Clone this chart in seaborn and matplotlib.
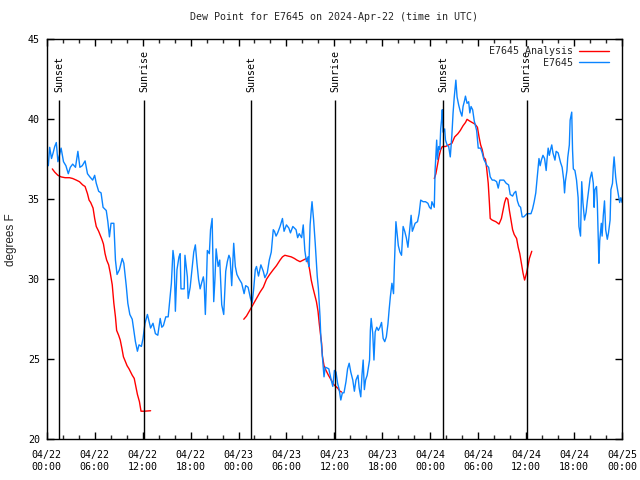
import numpy as np
import pandas as pd
import matplotlib
matplotlib.use("Agg")
import matplotlib.pyplot as plt
import matplotlib.dates as mdates
from matplotlib.lines import Line2D
import seaborn as sns

# ---------------- data (hours since 2024-04-22 00:00 UTC) ----------------
start = pd.Timestamp("2024-04-22 00:00")

obs_hours = [0.2, 0.37, 0.6, 0.8, 1.0, 1.2, 1.4, 1.8, 2.1, 2.4, 2.7, 2.95, 3.25, 3.6, 3.9, 4.15, 4.45, 4.8,
             5.1, 5.4, 5.75, 6.0, 6.2, 6.5, 6.8, 7.05, 7.45, 7.65, 7.85, 8.05, 8.4, 8.6, 8.8, 9.1, 9.45,
             9.65, 9.95, 10.15, 10.4, 10.7, 10.9, 11.1, 11.35, 11.55, 11.85, 12.05, 12.3, 12.6, 13.0, 13.3,
             13.6, 13.9, 14.2, 14.4, 14.6, 14.9, 15.2, 15.4, 15.6, 15.8, 15.95, 16.1, 16.3, 16.55, 16.7,
             16.8, 17.2, 17.3, 17.6, 17.7, 17.95, 18.2, 18.4, 18.6, 18.8, 19.0, 19.2, 19.4, 19.6, 19.7,
             19.85, 20.0, 20.1, 20.35, 20.5, 20.7, 20.8, 20.9, 21.05, 21.2, 21.45, 21.65, 21.9, 22.15,
             22.4, 22.6, 22.8, 22.95, 23.15, 23.4, 23.6, 23.8, 24.1, 24.4, 24.7, 24.9, 25.2, 25.5, 25.7,
             25.9, 26.1, 26.25, 26.5, 26.8, 27.1, 27.3, 27.6, 27.85, 28.1, 28.35, 28.5, 28.7, 28.9, 29.2,
             29.5, 29.7, 30.0, 30.3, 30.5, 30.8, 31.2, 31.4, 31.6, 31.9, 32.1, 32.3, 32.5, 32.7, 32.8,
             32.96, 33.1, 33.2, 33.4, 33.6, 33.85, 34.0, 34.2, 34.3, 34.5, 34.7, 34.85, 35.1, 35.3, 35.6,
             35.8, 36.0, 36.2, 36.4, 36.6, 36.8, 37.0, 37.2, 37.45, 37.65, 37.85, 38.05, 38.3, 38.5, 38.7,
             38.95, 39.1, 39.3, 39.45, 39.6, 39.75, 39.9, 40.1, 40.4, 40.5, 40.6, 40.8, 40.95, 41.1, 41.3,
             41.5, 41.7, 41.9, 42.1, 42.3, 42.5, 42.7, 42.85, 43.0, 43.2, 43.4, 43.5, 43.7, 43.8, 44.0,
             44.2, 44.4, 44.6, 44.8, 45.0, 45.2, 45.4, 45.6, 45.75, 45.9, 46.1, 46.4, 46.6, 46.8, 47.1,
             47.4, 47.7, 47.9, 48.1, 48.2, 48.5, 48.6, 48.7, 48.8, 48.9, 49.05, 49.2, 49.3, 49.45, 49.5,
             49.6, 49.8, 49.9, 50.1, 50.3, 50.5, 50.7, 50.85, 51.0, 51.2, 51.35, 51.55, 51.75, 51.96,
             52.1, 52.3, 52.4, 52.6, 52.8, 52.95, 53.1, 53.3, 53.5, 53.8, 54.0, 54.3, 54.5, 54.7, 54.9,
             55.1, 55.3, 55.5, 55.75, 56.0, 56.3, 56.5, 56.7, 56.9, 57.2, 57.5, 57.8, 58.0, 58.3, 58.5,
             58.7, 58.9, 59.1, 59.3, 59.5, 59.7, 59.9, 60.1, 60.4, 60.6, 60.8, 61.0, 61.2, 61.35, 61.5,
             61.6, 61.75, 61.9, 62.1, 62.3, 62.5, 62.6, 62.75, 62.9, 63.05, 63.2, 63.35, 63.6, 63.75,
             64.0, 64.3, 64.5, 64.7, 64.8, 64.9, 65.1, 65.2, 65.4, 65.5, 65.7, 65.8, 65.9, 66.1, 66.3,
             66.5, 66.6, 66.8, 66.95, 67.1, 67.3, 67.5, 67.65, 67.85, 68.0, 68.2, 68.4, 68.5, 68.6, 68.8,
             68.9, 69.1, 69.2, 69.4, 69.5, 69.65, 69.8, 69.95, 70.15, 70.3, 70.5, 70.6, 70.8, 70.9, 71.0,
             71.2, 71.3, 71.5, 71.7, 71.85, 72.0]
obs_dew = [37.1, 38.25, 37.55, 37.9, 38.3, 38.55, 37.35, 38.2, 37.35, 37.1, 36.6, 37.0, 37.2, 37.0, 38.0,
           37.0, 37.1, 37.4, 36.6, 36.4, 36.2, 36.5, 36.0, 35.5, 35.4, 34.5, 34.3, 33.6, 32.65, 33.5,
           33.5, 31.2, 30.3, 30.6, 31.3, 31.0, 29.6, 28.5, 27.8, 27.5, 26.8, 26.1, 25.5, 25.9, 25.8,
           26.3, 27.25, 27.8, 26.95, 27.25, 26.6, 26.5, 27.55, 27.0, 27.1, 27.65, 27.65, 28.7, 29.75,
           31.8, 31.2, 28.0, 30.6, 31.4, 31.6, 29.4, 29.4, 31.5, 30.15, 28.8, 29.5, 30.7, 31.7, 32.15,
           31.0, 30.0, 29.4, 29.8, 30.15, 29.75, 27.8, 30.0, 31.8, 31.6, 33.1, 33.8, 31.1, 28.6, 30.0,
           31.9, 30.8, 31.2, 28.4, 27.8, 30.5, 31.1, 31.5, 31.3, 29.6, 32.25, 30.8, 30.3, 30.0, 29.75,
           29.1, 29.6, 29.5, 28.8, 28.5, 29.4, 30.6, 30.8, 30.2, 30.9, 30.5, 30.1, 30.4, 31.2, 31.7,
           33.1, 33.0, 32.7, 32.9, 33.3, 33.8, 33.0, 33.4, 33.2, 32.9, 33.3, 33.1, 32.6, 32.85, 32.6,
           33.4, 31.8, 31.1, 31.4, 30.8, 33.4, 34.3, 34.85, 33.7, 32.25, 30.2, 29.4, 27.65, 26.4, 25.15,
           23.9, 24.5, 24.45, 24.4, 23.7, 23.3, 24.3, 24.2, 23.5, 23.1, 22.45, 22.9, 22.9, 23.6, 24.4,
           24.75, 24.2, 23.7, 23.0, 23.7, 24.0, 23.2, 22.65, 24.0, 24.95, 23.1, 23.7, 24.0, 24.95, 26.8,
           27.55, 26.6, 24.95, 26.7, 27.0, 26.8, 27.0, 27.3, 26.3, 26.1, 26.4, 27.2, 28.1, 28.9, 29.75,
           29.1, 30.8, 33.6, 33.1, 32.1, 31.7, 31.5, 33.3, 33.0, 32.6, 32.0, 33.0, 34.0, 33.0, 33.2,
           33.5, 33.6, 34.1, 34.95, 34.85, 34.85, 34.75, 34.5, 34.4, 34.85, 34.5, 36.8, 37.8, 38.7,
           37.5, 38.3, 38.1, 39.4, 40.15, 40.6, 39.2, 39.4, 38.7, 38.4, 38.3, 37.65, 39.0, 40.4, 41.4,
           42.45, 41.4, 40.9, 40.5, 40.2, 40.8, 41.2, 41.45, 41.0, 41.1, 40.4, 40.8, 40.6, 39.9, 39.3,
           38.2, 38.2, 37.9, 37.5, 37.3, 37.1, 37.0, 36.4, 36.2, 36.2, 36.1, 35.7, 36.2, 36.2, 36.2,
           36.0, 35.9, 35.3, 35.2, 35.4, 35.5, 34.9, 34.6, 34.5, 33.9, 33.9, 34.0, 34.1, 34.1, 34.1,
           34.4, 34.85, 35.4, 36.2, 36.95, 37.55, 37.1, 37.45, 37.75, 37.55, 36.8, 37.45, 38.2, 37.75,
           38.1, 38.4, 37.9, 37.45, 38.0, 37.9, 37.3, 37.0, 36.2, 35.4, 36.1, 36.8, 37.6, 38.4, 39.95,
           40.45, 38.1, 36.9, 36.8, 36.2, 35.1, 33.3, 32.7, 36.1, 34.8, 33.7, 34.2, 34.9, 35.7, 36.3,
           36.7, 36.0, 34.5, 35.6, 35.8, 34.8, 31.0, 32.4, 33.5, 32.7, 34.0, 34.9, 33.1, 32.5, 32.9,
           33.7, 35.6, 36.0, 37.0, 37.65, 36.4, 36.0, 35.4, 34.8, 35.1, 34.8]

ana_hours_1 = [0.7, 1.0, 1.4, 1.8, 2.3, 2.85, 3.25, 3.7, 4.1, 4.5, 4.8, 5.1, 5.3, 5.5, 5.8, 6.0, 6.2, 6.5,
               6.7, 6.9, 7.1, 7.3, 7.5, 7.75, 7.95, 8.2, 8.4, 8.6, 8.75, 9.0, 9.2, 9.4, 9.6, 9.85, 10.05,
               10.3, 10.5, 10.7, 10.95, 11.15, 11.35, 11.6, 11.8, 12.2, 13.0]
ana_dew_1 = [36.9, 36.7, 36.5, 36.4, 36.35, 36.35, 36.3, 36.2, 36.1, 35.9, 35.8, 35.35, 34.95, 34.8, 34.45,
             33.8, 33.3, 33.0, 32.75, 32.5, 32.2, 31.6, 31.2, 30.9, 30.4, 29.65, 28.5, 27.65, 26.8, 26.5,
             26.2, 25.7, 25.15, 24.85, 24.6, 24.4, 24.2, 24.0, 23.8, 23.3, 22.8, 22.35, 21.75, 21.75, 21.78]
ana_hours_2 = [24.66, 25.0, 25.4, 25.8, 26.25, 26.7, 27.1, 27.5, 27.9, 28.35, 28.75, 29.2, 29.5, 29.8, 30.2,
               30.6, 31.0, 31.3, 31.7, 32.1, 32.5, 32.7, 32.9, 33.1, 33.3, 33.5, 33.75, 33.95, 34.1, 34.25,
               34.4, 34.5, 34.7, 34.95, 35.25, 35.6, 35.95, 36.4, 36.7, 36.9]
ana_dew_2 = [27.5, 27.7, 28.05, 28.4, 28.8, 29.2, 29.5, 30.0, 30.3, 30.6, 30.85, 31.2, 31.4, 31.5, 31.45,
             31.4, 31.3, 31.2, 31.1, 31.2, 31.3, 31.1, 30.6, 29.95, 29.5, 29.1, 28.6, 28.0, 27.25, 26.6,
             26.0, 25.2, 24.6, 24.3, 24.0, 23.7, 23.4, 23.2, 23.0, 22.95]
ana_hours_3 = [48.5, 48.7, 48.9, 49.1, 49.3, 49.5, 49.9, 50.3, 50.7, 51.05, 51.45, 51.75, 52.1, 52.4, 52.6,
               52.9, 53.25, 53.6, 53.9, 54.1, 54.3, 54.5, 54.7, 54.9, 55.05, 55.25, 55.4, 55.5, 55.75, 56.2,
               56.6, 56.9, 57.1, 57.3, 57.5, 57.7, 57.9, 58.1, 58.3, 58.5, 58.8, 59.0, 59.2, 59.4, 59.6,
               59.8, 60.05, 60.25, 60.4, 60.7]
ana_dew_3 = [36.3, 36.6, 37.15, 37.7, 38.1, 38.3, 38.3, 38.4, 38.5, 38.9, 39.1, 39.3, 39.6, 39.8, 40.0,
             39.9, 39.8, 39.7, 39.5, 38.9, 38.4, 38.1, 37.6, 37.5, 36.95, 36.0, 34.75, 33.8, 33.7, 33.6,
             33.45, 33.8, 34.3, 34.8, 35.1, 35.0, 34.3, 33.7, 33.1, 32.8, 32.55, 32.0, 31.6, 31.0, 30.4,
             29.95, 30.4, 30.9, 31.3, 31.75]

sun_events = ["Sunset", "Sunrise", "Sunset", "Sunrise", "Sunset", "Sunrise"]
sun_hours = [1.58, 12.2, 25.6, 36.1, 49.6, 60.08]

title = "Dew Point for E7645 on 2024-Apr-22 (time in UTC)"
ylabel = "degrees F"
obs_label = "E7645"
ana_label = "E7645 Analysis"

# ---------------- build frames ----------------
obs_df = pd.DataFrame({"time": start + pd.to_timedelta(obs_hours, unit="h"), "dew": obs_dew})
ana_df = pd.concat([
    pd.DataFrame({"time": start + pd.to_timedelta(h, unit="h"), "dew": d, "seg": i})
    for i, (h, d) in enumerate([(ana_hours_1, ana_dew_1), (ana_hours_2, ana_dew_2), (ana_hours_3, ana_dew_3)])
], ignore_index=True)

# ---------------- style ----------------
sns.set_theme(style="ticks")
plt.rcParams["font.family"] = ["DejaVu Sans Mono"]
plt.rcParams["axes.linewidth"] = 1.0
plt.rcParams["axes.edgecolor"] = "black"

fig = plt.figure(figsize=(6.4, 4.8), dpi=100)
ax = fig.add_axes([0.073, 0.085, 0.899, 0.833])

RED = "#ff0000"
BLUE = "#0a84ff"

sns.lineplot(data=ana_df, x="time", y="dew", units="seg", estimator=None, color=RED,
             lw=1.0, ax=ax, legend=False)
sns.lineplot(data=obs_df, x="time", y="dew", color=BLUE, lw=1.0, ax=ax, legend=False)

# sunrise / sunset markers
for name, h in zip(sun_events, sun_hours):
    t = start + pd.Timedelta(hours=h)
    ax.vlines(t, 20, 41.2, color="black", lw=1.0)
    ax.text(t, 41.7, name, rotation=90, ha="center", va="bottom", fontsize=7.2, color="black")

ax.set_xlim(start, start + pd.Timedelta(hours=72))
ax.set_ylim(20, 45)
ax.set_yticks([20, 25, 30, 35, 40, 45])
ax.xaxis.set_major_locator(mdates.HourLocator(byhour=[0, 6, 12, 18]))
ax.xaxis.set_minor_locator(mdates.HourLocator(interval=2))
ax.xaxis.set_major_formatter(mdates.DateFormatter("%m/%d\n%H:%M"))

ax.tick_params(axis="both", which="major", direction="in", length=5, width=1, labelsize=7.2,
               top=True, right=True, colors="black")
ax.tick_params(axis="x", which="minor", direction="in", length=3, width=1, top=True)
ax.tick_params(axis="x", which="major", pad=8)
ax.tick_params(axis="y", which="major", pad=5)

ax.set_xlabel("")
ax.set_ylabel(ylabel, fontsize=8.5, family=["Liberation Sans", "DejaVu Sans"], labelpad=8)
ax.set_title(title, fontsize=7.2, pad=14)

handles = [Line2D([], [], color=RED, lw=1.0), Line2D([], [], color=BLUE, lw=1.0)]
ax.legend(handles, [ana_label, obs_label], loc="upper right", frameon=False, markerfirst=False,
          fontsize=7.2, handlelength=3.0, handletextpad=0.6, labelspacing=0.15,
          borderaxespad=0.3, bbox_to_anchor=(0.99, 1.0))

fig.savefig("out.png", dpi=100)
